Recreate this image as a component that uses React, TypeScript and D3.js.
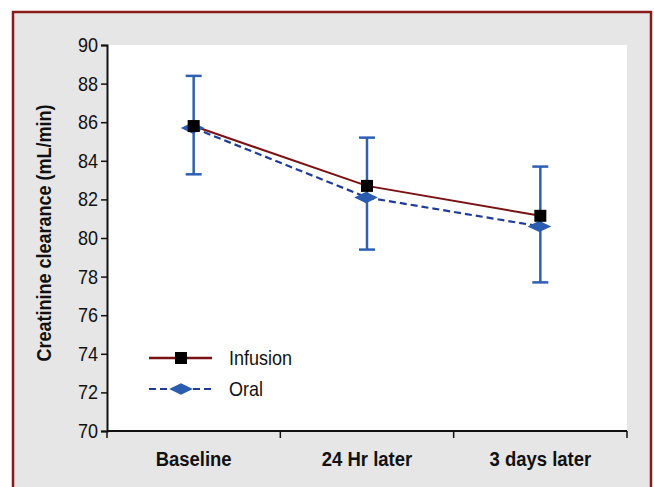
import React, { useRef, useEffect } from 'react';
import * as d3 from 'd3';

const categories = ['Baseline', '24 Hr later', '3 days later'];
const infusion = [85.8, 82.7, 81.15];
const oral = [85.7, 82.1, 80.6];
const errLow = [83.3, 79.4, 77.7];
const errHigh = [88.4, 85.2, 83.7];
const yTicks = [70, 72, 74, 76, 78, 80, 82, 84, 86, 88, 90];

const font = '"Liberation Sans", Arial, Helvetica, sans-serif';

const App = () => {
  const svgRef = useRef(null);

  useEffect(() => {
    const width = 654;
    const height = 487;
    const margin = { top: 45, right: 27, bottom: 56, left: 107 };

    const svg = d3.select(svgRef.current)
      .attr('width', width)
      .attr('height', height);

    svg.selectAll('*').remove();

    // fond gris + cadre
    svg.append('rect')
      .attr('x', 13).attr('y', 12)
      .attr('width', 638).attr('height', 490)
      .attr('fill', '#e6e6e6')
      .attr('stroke', '#8b1a1a')
      .attr('stroke-width', 2.5);

    const x = d3.scaleBand()
      .domain(categories)
      .range([margin.left, width - margin.right]);

    const y = d3.scaleLinear()
      .domain([70, 90])
      .range([height - margin.bottom, margin.top]);

    // zone blanche
    svg.append('rect')
      .attr('x', margin.left)
      .attr('y', margin.top)
      .attr('width', width - margin.right - margin.left)
      .attr('height', height - margin.bottom - margin.top)
      .attr('fill', 'white');

    // axe Y
    const yAxis = svg.append('g')
      .attr('transform', `translate(${margin.left},0)`)
      .call(d3.axisLeft(y).tickValues(yTicks).tickSize(6).tickPadding(4));
    yAxis.select('.domain').attr('stroke', '#111').attr('stroke-width', 2);
    yAxis.selectAll('.tick line').attr('stroke', '#111').attr('stroke-width', 1.5);
    yAxis.selectAll('.tick text')
      .attr('font-family', font)
      .attr('font-size', 20)
      .attr('transform', 'scale(0.9,1)')
      .attr('fill', '#111');

    // axe X
    const xAxis = svg.append('g')
      .attr('transform', `translate(0,${height - margin.bottom})`);
    xAxis.append('line')
      .attr('x1', margin.left).attr('x2', width - margin.right)
      .attr('stroke', '#111').attr('stroke-width', 2);
    const edges = categories.map(c => x(c)).concat([width - margin.right]);
    xAxis.selectAll('line.tk')
      .data(edges)
      .enter()
      .append('line')
      .attr('class', 'tk')
      .attr('x1', d => d).attr('x2', d => d)
      .attr('y1', 0).attr('y2', 7)
      .attr('stroke', '#111').attr('stroke-width', 1.5);
    xAxis.selectAll('text')
      .data(categories)
      .enter()
      .append('text')
      .attr('transform', d => `translate(${x(d) + x.bandwidth() / 2},35) scale(0.88,1)`)
      .attr('text-anchor', 'middle')
      .attr('font-family', font)
      .attr('font-size', 21)
      .attr('font-weight', 'bold')
      .attr('fill', '#111')
      .text(d => d);

    // titre axe Y
    svg.append('text')
      .attr('transform', 'translate(51,233) rotate(-90) scale(0.9,1)')
      .attr('text-anchor', 'middle')
      .attr('font-family', font)
      .attr('font-size', 20)
      .attr('font-weight', 'bold')
      .attr('fill', '#111')
      .text('Creatinine clearance (mL/min)');

    const cx = (i) => x(categories[i]) + x.bandwidth() / 2;

    // barres d'erreur
    const eb = svg.append('g');
    categories.forEach((c, i) => {
      eb.append('line')
        .attr('x1', cx(i)).attr('x2', cx(i))
        .attr('y1', y(errLow[i])).attr('y2', y(errHigh[i]))
        .attr('stroke', '#2f5fb3').attr('stroke-width', 2.5);
      [errLow[i], errHigh[i]].forEach(v => {
        eb.append('line')
          .attr('x1', cx(i) - 8).attr('x2', cx(i) + 8)
          .attr('y1', y(v)).attr('y2', y(v))
          .attr('stroke', '#2f5fb3').attr('stroke-width', 2.5);
      });
    });

    const line = d3.line()
      .x((d, i) => cx(i))
      .y(d => y(d));

    // ligne orale (pointillés)
    svg.append('path')
      .datum(oral)
      .attr('fill', 'none')
      .attr('stroke', '#1f3b96')
      .attr('stroke-width', 2.2)
      .attr('stroke-dasharray', '7,4')
      .attr('d', line);

    // ligne perfusion
    svg.append('path')
      .datum(infusion)
      .attr('fill', 'none')
      .attr('stroke', '#7a1214')
      .attr('stroke-width', 2)
      .attr('d', line);

    const diamond = d3.symbol().type(d3.symbolDiamond).size(150);

    svg.selectAll('path.oral-pt')
      .data(oral)
      .enter()
      .append('path')
      .attr('class', 'oral-pt')
      .attr('d', diamond)
      .attr('transform', (d, i) => `translate(${cx(i) - 1},${y(d)}) scale(1.8,0.5)`)
      .attr('fill', '#2a5cb0');

    svg.selectAll('rect.inf-pt')
      .data(infusion)
      .enter()
      .append('rect')
      .attr('class', 'inf-pt')
      .attr('x', (d, i) => cx(i) - 6)
      .attr('y', d => y(d) - 6)
      .attr('width', 12).attr('height', 12)
      .attr('fill', 'black');

    // légende
    const lg = svg.append('g');
    lg.append('line')
      .attr('x1', 149).attr('x2', 212)
      .attr('y1', 358).attr('y2', 358)
      .attr('stroke', '#7a1214').attr('stroke-width', 2.5);
    lg.append('rect')
      .attr('x', 175).attr('y', 352)
      .attr('width', 12).attr('height', 12)
      .attr('fill', 'black');
    lg.append('text')
      .attr('transform', 'translate(229,365) scale(0.9,1)')
      .attr('font-family', font).attr('font-size', 20).attr('fill', '#111')
      .text('Infusion');

    lg.append('line')
      .attr('x1', 149).attr('x2', 212)
      .attr('y1', 389).attr('y2', 389)
      .attr('stroke', '#1f3b96').attr('stroke-width', 2.2)
      .attr('stroke-dasharray', '7,4');
    lg.append('path')
      .attr('d', diamond)
      .attr('transform', 'translate(181,389) scale(1.8,0.5)')
      .attr('fill', '#2a5cb0');
    lg.append('text')
      .attr('transform', 'translate(229,396) scale(0.9,1)')
      .attr('font-family', font).attr('font-size', 20).attr('fill', '#111')
      .text('Oral');
  }, []);

  return (
    <div style={{ position: 'absolute', left: 0, top: 0, overflow: 'hidden', width: 654, height: 487 }}>
      <svg ref={svgRef} style={{ display: 'block' }}></svg>
    </div>
  );
};

export default App;
